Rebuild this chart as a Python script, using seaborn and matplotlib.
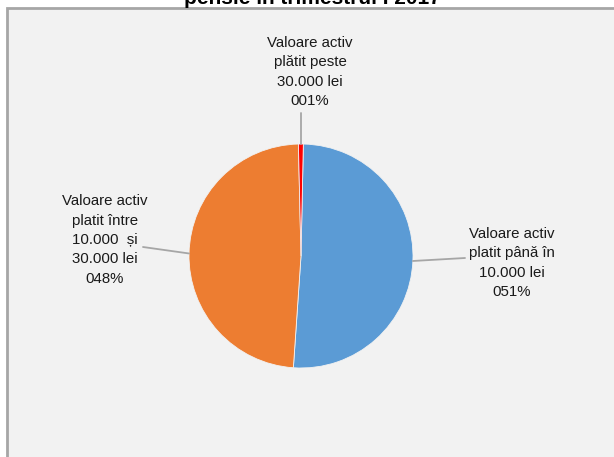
import matplotlib
matplotlib.use('Agg')
import matplotlib.pyplot as plt
from matplotlib.patches import Rectangle
import seaborn as sns
import numpy as np

sns.set_style('white')
plt.rcParams['font.family'] = ['Liberation Sans', 'DejaVu Sans']

# data
categories = ['Valoare activ\nplatit până în\n10.000 lei',
              'Valoare activ\nplatit între\n10.000  și\n30.000 lei',
              'Valoare activ\nplătit peste\n30.000 lei']
shares = [50.6, 48.4, 0.7]
colors = ['#5b9bd5', '#ed7d31', '#ff0000']
title = 'pensie în trimestrul I 2017'

W, H = 614, 457
fig = plt.figure(figsize=(W / 100, H / 100), dpi=100)
fig.patch.set_facecolor('white')

# grey chart area, cut by the image's right and bottom edges
fig.patches.append(Rectangle((7 / W, -0.1), 1.2, 1 - 8 / H + 0.1,
                             transform=fig.transFigure, facecolor='#f2f2f2',
                             edgecolor='#a6a6a6', lw=2, zorder=-5))

fig.text(312 / W, 1 - 4 / H, title, ha='center', va='baseline',
         fontsize=15, fontweight='bold', color='black')

ax = fig.add_axes([0, 0, 1, 1])
ax.set_zorder(2)
ax.patch.set_alpha(0)

cx, cy, r = 301, H - 256, 112
wedges, _ = ax.pie(shares, colors=colors, startangle=88.8, counterclock=False,
                   center=(cx, cy), radius=r, frame=True, normalize=True,
                   wedgeprops=dict(linewidth=0.6, edgecolor='#f2f2f2'))
ax.set_xlim(0, W)
ax.set_ylim(0, H)
ax.set_aspect('equal')
ax.axis('off')

# label block centres (pixels from top)
label_pos = [(512, 263), (105, 240), (310, 72)]
leader_start = [(465, 258), (143, 247), (None, 113)]

for w, cat, v, (tx, ty), (lx, ly) in zip(wedges, categories, shares,
                                         label_pos, leader_start):
    txt = f'{cat}\n{round(v):03d}%'
    ax.text(tx, H - ty, txt, ha='center', va='center', multialignment='center',
            fontsize=10.8, linespacing=1.48, color='#1a1a1a')
    mid = np.deg2rad((w.theta1 + w.theta2) / 2)
    ex, ey = cx + r * np.cos(mid), cy + r * np.sin(mid)
    if lx is None:
        lx = ex
    ax.plot([lx, ex], [H - ly, ey], color='#a6a6a6', lw=1.3, zorder=1)

fig.savefig('out.png', dpi=100, facecolor='white')
